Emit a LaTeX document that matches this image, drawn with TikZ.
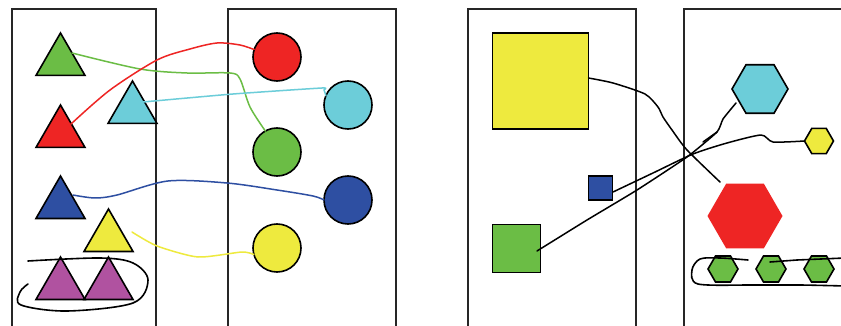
\documentclass[tikz,border=0pt]{standalone}
\usetikzlibrary{shapes.geometric}
\definecolor{cgreen}{HTML}{6BBD45}
\definecolor{cred}{HTML}{EE2524}
\definecolor{ccyan}{HTML}{6CCDD9}
\definecolor{cblue}{HTML}{2E4FA2}
\definecolor{cyell}{HTML}{EEEA3E}
\definecolor{cpurp}{HTML}{B052A0}
\tikzset{
  panel/.style={draw=black!85, line width=1.8pt},
  tri/.style={regular polygon, regular polygon sides=3, minimum size=56.6pt, inner sep=0pt, outer sep=0pt, draw=black, line width=1.6pt, line join=miter},
  circ/.style={circle, minimum size=48pt, inner sep=0pt, outer sep=0pt, draw=black, line width=1.6pt},
  hex/.style={regular polygon, regular polygon sides=6, inner sep=0pt, outer sep=0pt, draw=black, line width=1.6pt},
  sq/.style={rectangle, inner sep=0pt, outer sep=0pt, draw=black, line width=1.6pt},
  conn/.style={line width=1.5pt, line join=round, line cap=round},
  lasso/.style={line width=1.6pt, line cap=round, line join=round, black}
}
\begin{document}
\begin{tikzpicture}[x=1pt,y=-1pt]
\useasboundingbox (0,0) rectangle (841,326);
\clip (0,0) rectangle (841,326);
\fill[white] (0,0) rectangle (841,326);
% panels
\draw[panel] (12,9) rectangle (156,345);
\draw[panel] (228,9) rectangle (396,345);
\draw[panel] (468,9) rectangle (636,345);
\draw[panel] (684,9) rectangle (860,345);
% triangles
\node[tri, fill=cgreen] (tg) at (60.5,61.3) {};
\node[tri, fill=cred] (tr) at (60.5,133.3) {};
\node[tri, fill=ccyan] (tc) at (132.5,109.3) {};
\node[tri, fill=cblue] (tb) at (60.5,204.3) {};
\node[tri, fill=cyell] (ty) at (108.5,237.3) {};
\node[tri, fill=cpurp] (tp1) at (60.5,285.3) {};
\node[tri, fill=cpurp] (tp2) at (108.5,285.3) {};
% circles
\node[circ, fill=cred] (cr) at (277,57) {};
\node[circ, fill=ccyan] (cc) at (348,105) {};
\node[circ, fill=cgreen] (cg) at (277,152) {};
\node[circ, fill=cblue] (cb) at (348,200) {};
\node[circ, fill=cyell] (cy) at (277,248) {};
% squares
\node[sq, fill=cyell, minimum size=96pt] (sy) at (540.5,81) {};
\node[sq, fill=cblue, minimum size=24pt] (sb) at (600.5,188) {};
\node[sq, fill=cgreen, minimum size=48pt] (sg) at (516.5,248.5) {};
% hexagons
\node[hex, fill=ccyan, minimum size=56pt] (hc) at (760,89) {};
\node[hex, fill=cyell, minimum size=29pt] (hy) at (819,141) {};
\node[hex, fill=cred, draw=none, minimum size=75pt] (hr) at (745,216) {};
\node[hex, fill=cgreen, minimum size=30pt] (hg1) at (723,269) {};
\node[hex, fill=cgreen, minimum size=30pt] (hg2) at (771,269) {};
\node[hex, fill=cgreen, minimum size=30pt] (hg3) at (819,269) {};
% colored connectors
\draw[conn, cgreen] plot[smooth, tension=0.5] coordinates {([shift={(11.5,-8.3)}]tg.center) (140,69) (187,73) (230,73) (240,79) (250,107) (cg.119)};
\draw[conn, cred] plot[smooth, tension=0.5] coordinates {([shift={(10.5,-9.3)}]tr.center) (110,90) (157,60) (190,49) (217,43) (240,45) (cr.162)};
\draw[conn, ccyan] plot[smooth, tension=0.3] coordinates {([shift={(10.5,-7.3)}]tc.center) (233,94) (322,88) (324,90) (cc.157)};
\draw[conn, cblue] plot[smooth, tension=0.5] coordinates {([shift={(12.5,-9.3)}]tb.center) (95,198) (117,195) (168,181) (227,183) (277,190) (313,196) (cb.west)};
\draw[conn, cyell] plot[smooth, tension=0.4] coordinates {(132,232) (157,246) (198,257) (242,252) (cy.196)};
% purple lasso
\draw[lasso] plot[smooth, tension=0.55] coordinates {(28,261) (100,258) (133,263) (148,280) (133,303) (67,311) (21,305) (20,292) (28,284)};
% black connectors
\draw[conn, black] plot[smooth, tension=0.4] coordinates {([shift={(0,-3)}]sy.east) (613,83) (645,94) (658,107) (663,117) (672,130) (687,150) (720,182)};
\draw[conn, black] plot[smooth, tension=0.4] coordinates {([shift={(12.5,4)}]sb.center) (653,173) (693,154) (727,143) (761,135) (773,142) (hy.west)};
\draw[conn, black] plot[smooth, tension=0.3] coordinates {([shift={(20.5,2.5)}]sg.center) (587,220) (637,190) (687,157) (717,132) (723,119) (736,103)};
\draw[conn, black] (703,142) -- (717,132);
% green lasso
\draw[lasso] plot[smooth, tension=0.5] coordinates {(748,260) (720,258) (700,259) (692,270) (698,284) (753,285) (800,285) (845,286)};
\draw[lasso] (770,262) -- (797,260) -- (845,258);
\end{tikzpicture}
\end{document}
